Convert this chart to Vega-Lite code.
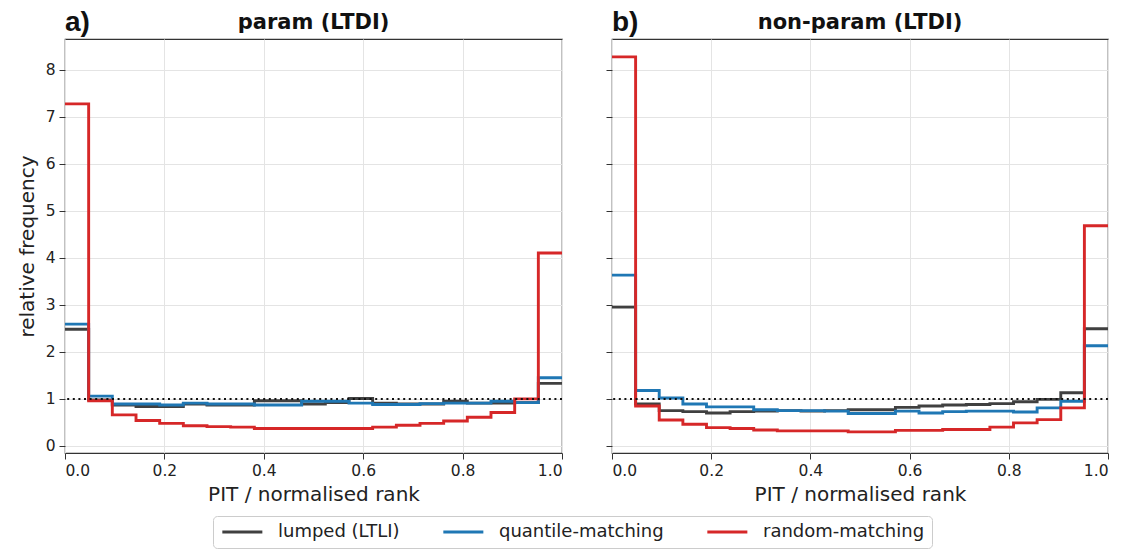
{
  "$schema": "https://vega.github.io/schema/vega-lite/v6.json",
  "background": "white",
  "padding": {"left": 16, "top": 8, "right": 10, "bottom": 0},
  "datasets": {
    "h": [
      {"p":"a","x":0,"lumped (LTLI)":2.48,"quantile-matching":2.59,"random-matching":7.27},
      {"p":"a","x":0.0476,"lumped (LTLI)":0.98,"quantile-matching":1.06,"random-matching":0.96},
      {"p":"a","x":0.0952,"lumped (LTLI)":0.87,"quantile-matching":0.89,"random-matching":0.66},
      {"p":"a","x":0.1429,"lumped (LTLI)":0.84,"quantile-matching":0.89,"random-matching":0.54},
      {"p":"a","x":0.1905,"lumped (LTLI)":0.84,"quantile-matching":0.87,"random-matching":0.48},
      {"p":"a","x":0.2381,"lumped (LTLI)":0.89,"quantile-matching":0.91,"random-matching":0.43},
      {"p":"a","x":0.2857,"lumped (LTLI)":0.87,"quantile-matching":0.89,"random-matching":0.41},
      {"p":"a","x":0.3333,"lumped (LTLI)":0.87,"quantile-matching":0.89,"random-matching":0.40},
      {"p":"a","x":0.381,"lumped (LTLI)":0.96,"quantile-matching":0.87,"random-matching":0.37},
      {"p":"a","x":0.4286,"lumped (LTLI)":0.96,"quantile-matching":0.87,"random-matching":0.37},
      {"p":"a","x":0.4762,"lumped (LTLI)":0.89,"quantile-matching":0.95,"random-matching":0.37},
      {"p":"a","x":0.5238,"lumped (LTLI)":0.92,"quantile-matching":0.95,"random-matching":0.37},
      {"p":"a","x":0.5714,"lumped (LTLI)":1.01,"quantile-matching":0.91,"random-matching":0.37},
      {"p":"a","x":0.619,"lumped (LTLI)":0.91,"quantile-matching":0.88,"random-matching":0.40},
      {"p":"a","x":0.6667,"lumped (LTLI)":0.89,"quantile-matching":0.88,"random-matching":0.44},
      {"p":"a","x":0.7143,"lumped (LTLI)":0.89,"quantile-matching":0.90,"random-matching":0.48},
      {"p":"a","x":0.7619,"lumped (LTLI)":0.95,"quantile-matching":0.91,"random-matching":0.53},
      {"p":"a","x":0.8095,"lumped (LTLI)":0.91,"quantile-matching":0.91,"random-matching":0.61},
      {"p":"a","x":0.8571,"lumped (LTLI)":0.91,"quantile-matching":0.95,"random-matching":0.71},
      {"p":"a","x":0.9048,"lumped (LTLI)":0.92,"quantile-matching":0.92,"random-matching":1.00},
      {"p":"a","x":0.9524,"lumped (LTLI)":1.33,"quantile-matching":1.45,"random-matching":4.10},
      {"p":"a","x":1,"lumped (LTLI)":1.33,"quantile-matching":1.45,"random-matching":4.10},
      {"p":"b","x":0,"lumped (LTLI)":2.95,"quantile-matching":3.63,"random-matching":8.27},
      {"p":"b","x":0.0476,"lumped (LTLI)":0.89,"quantile-matching":1.18,"random-matching":0.85},
      {"p":"b","x":0.0952,"lumped (LTLI)":0.75,"quantile-matching":1.02,"random-matching":0.55},
      {"p":"b","x":0.1429,"lumped (LTLI)":0.73,"quantile-matching":0.89,"random-matching":0.46},
      {"p":"b","x":0.1905,"lumped (LTLI)":0.70,"quantile-matching":0.83,"random-matching":0.39},
      {"p":"b","x":0.2381,"lumped (LTLI)":0.73,"quantile-matching":0.83,"random-matching":0.37},
      {"p":"b","x":0.2857,"lumped (LTLI)":0.74,"quantile-matching":0.77,"random-matching":0.34},
      {"p":"b","x":0.3333,"lumped (LTLI)":0.75,"quantile-matching":0.75,"random-matching":0.32},
      {"p":"b","x":0.381,"lumped (LTLI)":0.74,"quantile-matching":0.75,"random-matching":0.32},
      {"p":"b","x":0.4286,"lumped (LTLI)":0.75,"quantile-matching":0.74,"random-matching":0.32},
      {"p":"b","x":0.4762,"lumped (LTLI)":0.77,"quantile-matching":0.69,"random-matching":0.30},
      {"p":"b","x":0.5238,"lumped (LTLI)":0.77,"quantile-matching":0.69,"random-matching":0.30},
      {"p":"b","x":0.5714,"lumped (LTLI)":0.82,"quantile-matching":0.74,"random-matching":0.33},
      {"p":"b","x":0.619,"lumped (LTLI)":0.85,"quantile-matching":0.70,"random-matching":0.33},
      {"p":"b","x":0.6667,"lumped (LTLI)":0.87,"quantile-matching":0.73,"random-matching":0.35},
      {"p":"b","x":0.7143,"lumped (LTLI)":0.88,"quantile-matching":0.74,"random-matching":0.35},
      {"p":"b","x":0.7619,"lumped (LTLI)":0.90,"quantile-matching":0.74,"random-matching":0.40},
      {"p":"b","x":0.8095,"lumped (LTLI)":0.94,"quantile-matching":0.72,"random-matching":0.49},
      {"p":"b","x":0.8571,"lumped (LTLI)":0.99,"quantile-matching":0.81,"random-matching":0.56},
      {"p":"b","x":0.9048,"lumped (LTLI)":1.13,"quantile-matching":0.95,"random-matching":0.81},
      {"p":"b","x":0.9524,"lumped (LTLI)":2.49,"quantile-matching":2.13,"random-matching":4.68},
      {"p":"b","x":1,"lumped (LTLI)":2.49,"quantile-matching":2.13,"random-matching":4.68}
    ],
    "lab": [{"p":"a","t":"a)"},{"p":"b","t":"b)"}]
  },
  "config": {
    "font": "DejaVu Sans",
    "view": {"stroke": "#333333", "strokeWidth": 1.2},
    "axis": {
      "grid": true, "gridColor": "#e4e4e4", "gridWidth": 1,
      "domain": false, "tickColor": "#333333", "tickSize": 6, "tickWidth": 1,
      "labelFont": "DejaVu Sans", "labelFontSize": 15.5, "labelColor": "#222222", "labelPadding": 4,
      "titleFont": "DejaVu Sans", "titleFontSize": 20, "titleFontWeight": "normal", "titleColor": "#222222", "titlePadding": 6
    },
    "title": {"font": "DejaVu Sans", "fontSize": 21, "fontWeight": "bold", "color": "#111111", "offset": -24, "baseline": "alphabetic"},
    "concat": {"spacing": 40},
    "legend": {
      "labelFont": "DejaVu Sans", "labelFontSize": 18, "labelColor": "#222222", "labelLimit": 400,
      "symbolType": "M-1,0H5", "symbolStrokeWidth": 3, "symbolSize": 178,
      "strokeColor": "#cccccc", "cornerRadius": 4, "padding": 7, "columnPadding": 37, "labelOffset": 40
    }
  },
  "resolve": {"scale": {"y": "shared", "color": "shared"}},
  "hconcat": [
    {
      "width": 497, "height": 414,
      "title": {"text": "param (LTDI)"},
      "layer": [
        {
          "data": {"name": "h"},
          "transform": [
            {"filter": "datum.p === 'a'"},
            {"fold": ["lumped (LTLI)", "quantile-matching", "random-matching"], "as": ["s", "v"]}
          ],
          "mark": {"type": "line", "interpolate": "step-after", "strokeWidth": 2.9, "clip": true},
          "encoding": {
            "x": {"field": "x", "type": "quantitative", "scale": {"domain": [0, 1], "nice": false},
                  "axis": {"title": "PIT / normalised rank", "values": [0, 0.2, 0.4, 0.6, 0.8, 1], "format": ".1f"}},
            "y": {"field": "v", "type": "quantitative", "scale": {"domain": [-0.15, 8.65], "nice": false, "zero": false},
                  "axis": {"title": "relative frequency", "values": [0, 1, 2, 3, 4, 5, 6, 7, 8], "format": "d", "titlePadding": 8}},
            "color": {"field": "s", "type": "nominal",
                      "scale": {"domain": ["lumped (LTLI)", "quantile-matching", "random-matching"], "range": ["#404040", "#1f77b4", "#d62728"]},
                      "legend": {"title": null, "orient": "none", "direction": "horizontal", "columns": 3, "legendX": 148, "legendY": 477}}
          }
        },
        {
          "data": {"values": [{}]},
          "mark": {"type": "rule", "strokeDash": [2, 3.6], "strokeWidth": 2, "color": "#111111"},
          "encoding": {"y": {"datum": 1}}
        },
        {
          "data": {"name": "lab"},
          "transform": [{"filter": "datum.p === 'a'"}],
          "mark": {"type": "text", "font": "Liberation Sans", "fontSize": 28, "fontWeight": "bold", "align": "left", "baseline": "alphabetic", "dy": -8, "color": "#111111"},
          "encoding": {"text": {"field": "t"}, "x": {"datum": 0}, "y": {"datum": 8.65}}
        }
      ]
    },
    {
      "width": 496, "height": 414,
      "title": {"text": "non-param (LTDI)"},
      "layer": [
        {
          "data": {"name": "h"},
          "transform": [
            {"filter": "datum.p === 'b'"},
            {"fold": ["lumped (LTLI)", "quantile-matching", "random-matching"], "as": ["s", "v"]}
          ],
          "mark": {"type": "line", "interpolate": "step-after", "strokeWidth": 2.9, "clip": true},
          "encoding": {
            "x": {"field": "x", "type": "quantitative", "scale": {"domain": [0, 1], "nice": false},
                  "axis": {"title": "PIT / normalised rank", "values": [0, 0.2, 0.4, 0.6, 0.8, 1], "format": ".1f"}},
            "y": {"field": "v", "type": "quantitative", "scale": {"domain": [-0.15, 8.65], "nice": false, "zero": false},
                  "axis": {"title": null, "labels": false, "values": [0, 1, 2, 3, 4, 5, 6, 7, 8]}},
            "color": {"field": "s", "type": "nominal",
                      "scale": {"domain": ["lumped (LTLI)", "quantile-matching", "random-matching"], "range": ["#404040", "#1f77b4", "#d62728"]}}
          }
        },
        {
          "data": {"values": [{}]},
          "mark": {"type": "rule", "strokeDash": [2, 3.6], "strokeWidth": 2, "color": "#111111"},
          "encoding": {"y": {"datum": 1}}
        },
        {
          "data": {"name": "lab"},
          "transform": [{"filter": "datum.p === 'b'"}],
          "mark": {"type": "text", "font": "Liberation Sans", "fontSize": 28, "fontWeight": "bold", "align": "left", "baseline": "alphabetic", "dy": -8, "color": "#111111"},
          "encoding": {"text": {"field": "t"}, "x": {"datum": 0}, "y": {"datum": 8.65}}
        }
      ]
    }
  ]
}
